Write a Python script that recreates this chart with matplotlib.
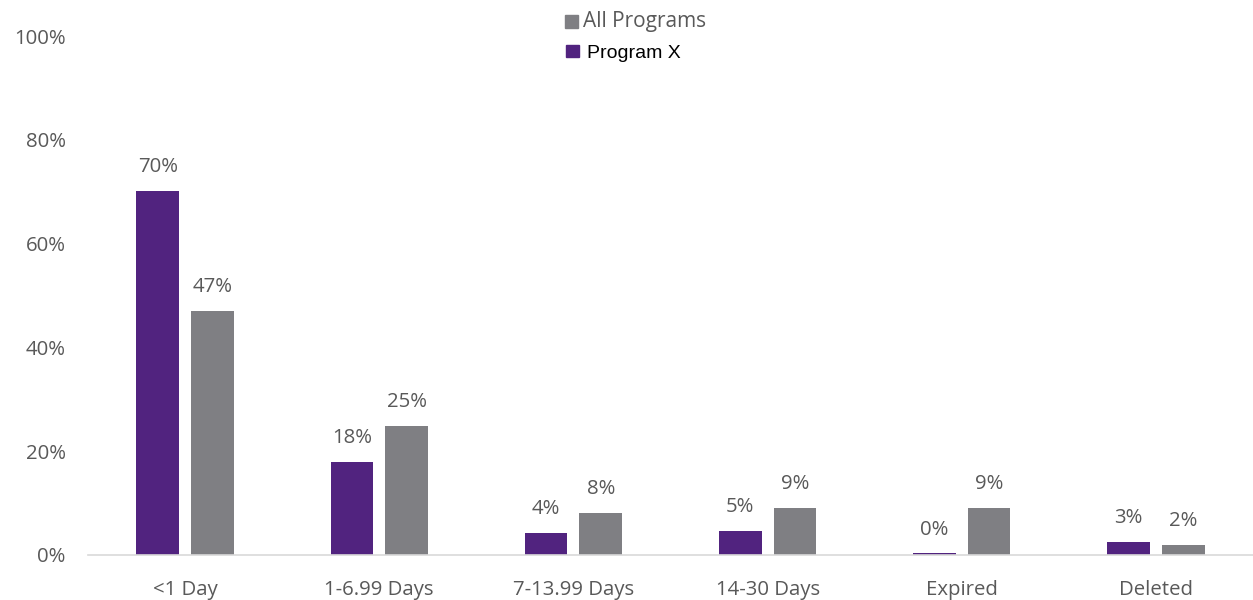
import matplotlib
matplotlib.use("Agg")
import matplotlib.pyplot as plt
import numpy as np

categories = ["<1 Day", "1-6.99 Days", "7-13.99 Days", "14-30 Days", "Expired", "Deleted"]
program_x = [70.2, 17.9, 4.2, 4.6, 0.3, 2.6]
all_programs = [47.1, 24.8, 8.1, 9.1, 9.0, 2.0]
program_x_labels = ["70%", "18%", "4%", "5%", "0%", "3%"]
all_programs_labels = ["47%", "25%", "8%", "9%", "9%", "2%"]
yticks = [0, 20, 40, 60, 80, 100]
ytick_labels = ["0%", "20%", "40%", "60%", "80%", "100%"]

purple = "#51237F"
grey = "#7F7F83"
txt = "#595959"
font = "Open Sans"
fs = 14.7

fig = plt.figure(figsize=(12.53, 6), dpi=100)
ax = fig.add_axes([88/1253, 1 - 555/600, 1 - 88/1253, (555-36)/600])

x = np.arange(len(categories))
w = 0.22
off = 0.141
ax.bar(x - off, program_x, w, color=purple)
ax.bar(x + off, all_programs, w, color=grey)

for xi, v, l in zip(x, program_x, program_x_labels):
    ax.annotate(l, (xi - off, v), xytext=(0, 10), textcoords="offset points",
                ha="center", va="bottom", fontsize=fs, color=txt, family=font)
for xi, v, l in zip(x, all_programs, all_programs_labels):
    ax.annotate(l, (xi + off, v), xytext=(0, 10), textcoords="offset points",
                ha="center", va="bottom", fontsize=fs, color=txt, family=font)

ax.set_xlim(-0.5, len(categories) - 0.5)
ax.set_ylim(0, 100)
ax.set_yticks(yticks)
ax.set_yticklabels(ytick_labels, fontsize=fs, color=txt, family=font)
ax.set_xticks(x)
ax.set_xticklabels(categories, fontsize=fs, color=txt, family=font)
ax.tick_params(axis="both", length=0)
ax.tick_params(axis="y", pad=16)
ax.tick_params(axis="x", pad=18)
for s in ["top", "right", "left"]:
    ax.spines[s].set_visible(False)
ax.spines["bottom"].set_color("#D9D9D9")
ax.spines["bottom"].set_linewidth(1.2)

# legend
fig.patches.append(plt.Rectangle((565/1253, 1 - 28/600), 13/1253, 13/600,
                                 transform=fig.transFigure, color=grey))
fig.text(583/1253, 1 - 21/600, "All Programs", fontsize=15, color=txt, family=font,
         va="center", ha="left")
fig.patches.append(plt.Rectangle((566/1253, 1 - 57/600), 13/1253, 12/600,
                                 transform=fig.transFigure, color=purple))
fig.text(587/1253, 1 - 53/600, "Program X", fontsize=14, color="black",
         family="Liberation Sans", va="center", ha="left")

fig.savefig("out.png", dpi=100)
